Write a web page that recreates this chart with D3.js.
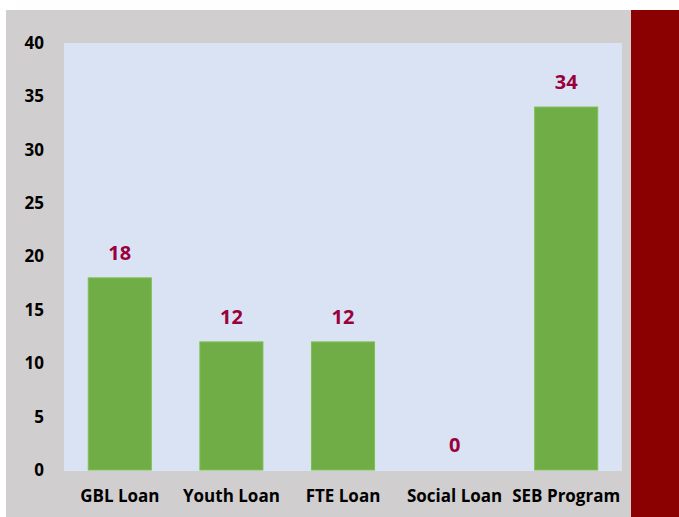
<!DOCTYPE html>
<html>
<head>
<meta charset="utf-8">
<script src="https://cdn.jsdelivr.net/npm/d3@7"></script>
<style>
  body { margin: 0; background: #fff; }
  svg text { font-family: "Open Sans", "Liberation Sans", sans-serif; font-weight: bold; }
</style>
</head>
<body>
<div class="chart"></div>
<script>
// data
const categories = ['GBL Loan', 'Youth Loan', 'FTE Loan', 'Social Loan', 'SEB Program'];
const values = [18, 12, 12, 0, 34];
const yTicks = [0, 5, 10, 15, 20, 25, 30, 35, 40];

const width = 679, height = 517;
// plot area inside the gray frame
const plot = {left: 64, top: 43, right: 622, bottom: 470};

const svg = d3.select('.chart').append('svg')
    .attr('width', width).attr('height', height);

// gray frame + dark red strip on the right
svg.append('rect').attr('x', 6).attr('y', 10).attr('width', 625).attr('height', 507)
    .style('fill', '#d0cece');
svg.append('rect').attr('x', 631).attr('y', 10).attr('width', 48).attr('height', 507)
    .style('fill', '#8b0000');
svg.append('rect').attr('x', plot.left).attr('y', plot.top)
    .attr('width', plot.right - plot.left).attr('height', 471 - plot.top)
    .style('fill', '#dae3f3');

const xScale = d3.scaleBand().domain(categories)
    .range([plot.left, plot.right]).paddingInner(0.435).paddingOuter(0.2175);
const yScale = d3.scaleLinear().domain([0, 40]).range([plot.bottom, plot.top]);

// bars
svg.selectAll('.bar')
    .data(categories)
    .enter()
    .append('rect')
    .attr('class', 'bar')
    .attr('x', d => xScale(d))
    .attr('y', (d, i) => yScale(values[i]))
    .attr('width', xScale.bandwidth())
    .attr('height', (d, i) => yScale(0) - yScale(values[i]))
    .style('fill', '#70ad47')
    .style('stroke', '#7cc04f')
    .style('stroke-width', 1);

// value labels
svg.selectAll('.value')
    .data(categories)
    .enter()
    .append('text')
    .attr('class', 'value')
    .attr('x', d => xScale(d) + xScale.bandwidth() / 2)
    .attr('y', (d, i) => yScale(values[i]) - 18)
    .attr('text-anchor', 'middle')
    .style('font-size', '20px')
    .style('fill', '#99003d')
    .text((d, i) => values[i]);

// y axis
const yAxis = d3.axisLeft(yScale).tickValues(yTicks).tickSize(0).tickPadding(20);
const yAxisDraw = svg.append('g')
    .attr('transform', `translate(${plot.left},0)`)
    .call(yAxis);
yAxisDraw.select('.domain').remove();
yAxisDraw.selectAll('text')
    .style('font-size', '17px').style('fill', '#000')
    .style('font-family', '"Open Sans", "Liberation Sans", sans-serif');

// x axis
const xAxis = d3.axisBottom(xScale).tickSize(0).tickPadding(20);
const xAxisDraw = svg.append('g')
    .attr('transform', `translate(0,${plot.bottom})`)
    .call(xAxis);
xAxisDraw.select('.domain').remove();
xAxisDraw.selectAll('text')
    .style('font-size', '17px').style('fill', '#000')
    .style('font-family', '"Open Sans", "Liberation Sans", sans-serif');
</script>
</body>
</html>
